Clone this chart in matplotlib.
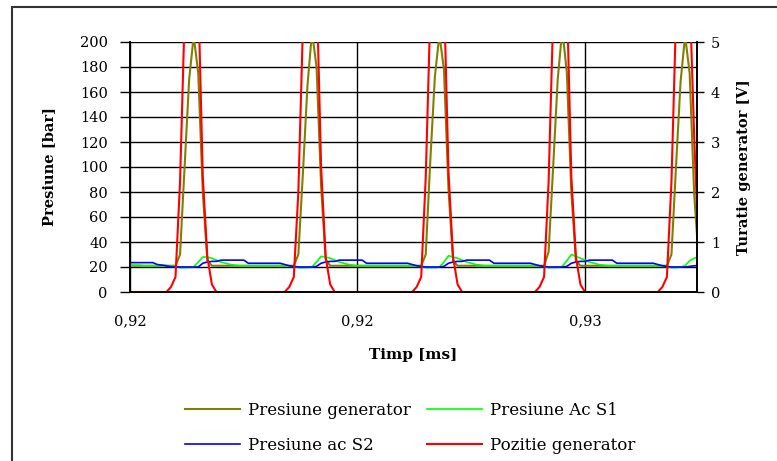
import numpy as np
import matplotlib
matplotlib.use("Agg")
import matplotlib.pyplot as plt
from matplotlib.patches import Rectangle

plt.rcParams['font.family'] = ['DejaVu Serif']

# time axis: samples every 0.0001 ms starting at 0.92 ms
t0 = 0.92
dt = 0.0001

# Presiune generator [bar]
p_gen = [21, 21, 21, 21, 21, 21, 21, 21, 21, 21,
         21, 30, 100, 170, 205, 175, 80, 25, 21,
         21, 21, 21, 21, 21, 21, 21, 21, 21, 21, 21, 21, 21, 21, 21, 21, 21,
         21, 30, 95, 165, 208, 180, 85, 26, 21,
         21, 21, 21, 21, 21, 21, 21, 21, 21, 21, 21, 21, 21, 21, 21, 21, 21, 21, 21,
         21, 30, 105, 172, 206, 178, 82, 25, 21,
         21, 21, 21, 21, 21, 21, 21, 21, 21, 21, 21, 21, 21, 21, 21, 21, 21, 21,
         21, 32, 100, 170, 210, 176, 80, 25, 21,
         21, 21, 21, 21, 21, 21, 21, 21, 21, 21, 21, 21, 21, 21, 21, 21, 21, 21,
         21, 30, 100, 168, 205, 175, 78, 25]

# Presiune Ac S1 [bar]
p_s1 = [21.5, 21.5, 21.5, 21, 21, 21, 21, 21, 21, 20.5, 20.5,
        19.5, 19.5, 19.5, 20, 24, 28, 28, 27, 25.5, 24, 23, 22, 21.5, 21,
        21, 21, 21, 21, 21, 21, 21, 21, 21, 21, 20.5, 20.5,
        19.5, 19.5, 19.5, 20, 24, 28.5, 28, 27, 25.5, 24, 23, 22, 21.5, 21,
        21, 21, 21, 21, 21, 21, 21, 21, 21, 21, 21, 21, 20.5, 20.5,
        19.5, 19.5, 19.5, 20, 24, 29, 28, 27, 25.5, 24, 23, 22, 21.5, 21,
        21, 21, 21, 21, 21, 21, 21, 21, 21, 21, 21, 20.5, 20.5,
        19.5, 19.5, 19.5, 20.5, 25, 30, 28.5, 27, 25.5, 24, 23, 22, 21.5, 21,
        21, 21, 21, 21, 21, 21, 21, 21, 21, 21, 21, 20.5, 20.5,
        19.5, 19.5, 20, 21, 25, 27, 28]

# Presiune ac S2 [bar]
p_s2 = [23.5, 23.5, 23.5, 23.5, 23.5, 23.5, 22, 21.5, 21,
        20, 20, 20, 20, 20, 20, 20,
        23, 24, 24.5, 24.5, 25.5, 25.5, 25.5, 25.5, 25.5, 25.5,
        23, 23, 23, 23, 23, 23, 23, 23, 22, 21,
        20.5, 20, 20, 20, 20, 20.5,
        23, 24, 24.5, 24.5, 25.5, 25.5, 25.5, 25.5, 25.5, 25.5,
        23, 23, 23, 23, 23, 23, 23, 23, 23, 23, 22, 21,
        20.5, 20, 20, 20, 20, 20.5,
        23, 24, 24.5, 24.5, 25.5, 25.5, 25.5, 25.5, 25.5, 25.5,
        23, 23, 23, 23, 23, 23, 23, 23, 23, 22, 21,
        20.5, 20, 20, 20, 20, 20.5,
        23, 24, 24.5, 24.5, 25.5, 25.5, 25.5, 25.5, 25.5, 25.5,
        23, 23, 23, 23, 23, 23, 23, 23, 23, 22, 21,
        20.5, 20, 20, 20, 20, 20.5,
        21, 21]

# Pozitie generator [V] (right axis)
poz_gen = [0, 0, 0, 0, 0, 0, 0, 0,
           0, 0.1, 0.3, 2.2, 5.5, 8, 9, 6, 2.3, 0.7, 0.15, 0,
           0, 0, 0, 0, 0, 0, 0, 0, 0, 0, 0, 0, 0, 0,
           0, 0.1, 0.3, 2.0, 5.3, 8, 9, 6.2, 2.5, 0.7, 0.15, 0,
           0, 0, 0, 0, 0, 0, 0, 0, 0, 0, 0, 0, 0, 0, 0, 0,
           0, 0.1, 0.3, 2.3, 5.6, 8, 9, 6, 2.4, 0.7, 0.15, 0,
           0, 0, 0, 0, 0, 0, 0, 0, 0, 0, 0, 0, 0, 0, 0,
           0, 0.1, 0.3, 2.2, 5.5, 8, 9, 6, 2.3, 0.7, 0.15, 0,
           0, 0, 0, 0, 0, 0, 0, 0, 0, 0, 0, 0, 0, 0, 0,
           0, 0.1, 0.3, 2.2, 5.5, 8, 9, 6, 3.1, 0.8]

x_ticks = [0.92, 0.925, 0.93]
x_ticklabels = ['0,92', '0,92', '0,93']

t = t0 + dt * np.arange(len(p_gen))

fig = plt.figure(figsize=(7.77, 4.61), dpi=100)
ax = fig.add_axes([130/777, 1-292/461, 567/777, 250/461])
ax2 = ax.twinx()

l1, = ax.plot(t, p_gen, color='#808000', lw=1.5, label='Presiune generator')
l2, = ax.plot(t, p_s1, color='#00ff00', lw=1.2, label='Presiune Ac S1')
l3, = ax.plot(t, p_s2, color='#0000ff', lw=1.2, label='Presiune ac S2')
l4, = ax2.plot(t, poz_gen, color='#ff0000', lw=1.5, label='Pozitie generator')

ax.set_xlim(0.92, 0.92 + 567/227.5*0.005)
ax.set_ylim(0, 200)
ax2.set_ylim(0, 5)
ax.set_yticks(np.arange(0, 201, 20))
ax2.set_yticks(np.arange(0, 6, 1))
ax.set_xticks(x_ticks)
ax.set_xticklabels(x_ticklabels)

ax.grid(True, color='black', lw=1)
ax.set_axisbelow(True)
ax.tick_params(axis='x', length=0, pad=16, labelsize=10.5)
ax.tick_params(axis='y', length=7, width=1, labelsize=10.5, pad=9)
ax2.tick_params(axis='y', length=5, width=1, labelsize=10.5, pad=5)
for a in (ax, ax2):
    a.spines['top'].set_visible(False)
    for s in ('left', 'right', 'bottom'):
        a.spines[s].set_linewidth(1.2)

ax.set_ylabel('Presiune [bar]', fontweight='bold', fontsize=10.5)
ax2.set_ylabel('Turatie generator [V]', fontweight='bold', fontsize=10.5)
ax.set_xlabel('Timp [ms]', fontweight='bold', fontsize=11)
ax.yaxis.set_label_coords(-0.1305, 0.5)
ax2.yaxis.set_label_coords(1.0705, 0.5)
ax.xaxis.set_label_coords(0.5, -0.224)

fig.legend([l1, l3, l2, l4],
           ['Presiune generator', 'Presiune ac S2', 'Presiune Ac S1', 'Pozitie generator'],
           ncol=2, loc='center', bbox_to_anchor=(0.528, 0.0716), frameon=False,
           fontsize=12, handlelength=3.3, handletextpad=0.45, columnspacing=1.0,
           labelspacing=1.05)

fig.add_artist(Rectangle((12/777, -0.1), 1.2, 1.1 - 7/461, transform=fig.transFigure,
                         fill=False, lw=1.5, edgecolor='#333333'))

fig.savefig('out.png', dpi=100)
